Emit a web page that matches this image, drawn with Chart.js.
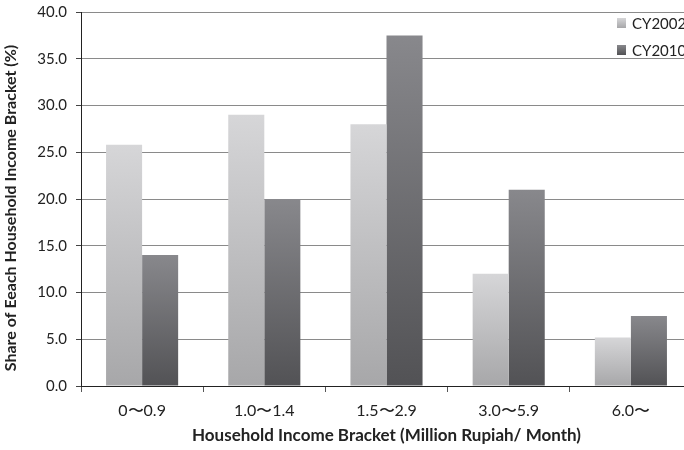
<!DOCTYPE html>
<html>
<head>
<meta charset="utf-8">
<script src="https://cdn.jsdelivr.net/npm/chart.js@4/dist/chart.umd.min.js"></script>
<style>
  html, body { margin: 0; padding: 0; background: #fff; overflow: hidden; }
  #wrap { width: 692px; height: 450px; position: relative; }
</style>
</head>
<body>
<div id="wrap"><canvas id="c"></canvas></div>
<script>
// Household income brackets (million Rupiah per month)
const categories = ['0〜0.9', '1.0〜1.4', '1.5〜2.9', '3.0〜5.9', '6.0〜'];
// Share of households in each bracket (%)
const cy2002 = [25.8, 29.0, 28.0, 12.0, 5.2];
const cy2010 = [14.0, 20.0, 37.5, 21.0, 7.5];
const seriesNames = ['CY2002', 'CY2010'];
const yTicks = [0, 5, 10, 15, 20, 25, 30, 35, 40];
const yTitle = 'Share of Eeach Household Income Bracket (%)';
const xTitle = 'Household Income Bracket (Million Rupiah/ Month)';

const FONT = 'Lato, "Liberation Sans", sans-serif';

// vertical gradient running from each bar's top down to the baseline
function barGradient(topColor, bottomColor) {
  return function (ctx) {
    const chart = ctx.chart;
    const { chartArea } = chart;
    if (!chartArea || ctx.type !== 'data') return bottomColor;
    const y = chart.scales.y;
    const top = y.getPixelForValue(ctx.raw);
    const base = y.getPixelForValue(0);
    const g = chart.ctx.createLinearGradient(0, top, 0, base);
    g.addColorStop(0, topColor);
    g.addColorStop(1, bottomColor);
    return g;
  };
}

const lightTop = '#d6d6d8', lightBottom = '#a7a7a9';
const darkTop = '#88888c', darkBottom = '#525255';

// rotated value-axis title, sitting slightly below the plot's midline
const sideTitle = {
  id: 'sideTitle',
  afterDraw(chart) {
    const { ctx, chartArea } = chart;
    ctx.save();
    ctx.translate(11, (chartArea.top + chartArea.bottom) / 2 + 9);
    ctx.rotate(-Math.PI / 2);
    ctx.fillStyle = '#222';
    ctx.font = 'bold 16px ' + FONT;
    ctx.textAlign = 'center';
    ctx.textBaseline = 'middle';
    ctx.fillText(yTitle, 0, 0);
    ctx.restore();
  }
};

// legend boxed in the upper right of the plot
const cornerLegend = {
  id: 'cornerLegend',
  afterDraw(chart) {
    const { ctx, chartArea } = chart;
    const x0 = chartArea.right - 75;
    const rows = [
      { label: seriesNames[0], top: lightTop, bottom: lightBottom, y: chartArea.top + 11 },
      { label: seriesNames[1], top: darkTop, bottom: darkBottom, y: chartArea.top + 38 }
    ];
    ctx.save();
    ctx.fillStyle = '#fff';
    ctx.fillRect(x0 - 6, chartArea.top + 2, 90, 44);
    rows.forEach(r => {
      const g = ctx.createLinearGradient(0, r.y - 5, 0, r.y + 5);
      g.addColorStop(0, r.top);
      g.addColorStop(1, r.bottom);
      ctx.fillStyle = g;
      ctx.fillRect(x0, r.y - 5, 9, 10);
      ctx.fillStyle = '#222';
      ctx.font = '15px ' + FONT;
      ctx.textAlign = 'left';
      ctx.textBaseline = 'middle';
      ctx.fillText(r.label, x0 + 15, r.y + 1);
    });
    ctx.restore();
  }
};

new Chart(document.getElementById('c'), {
  type: 'bar',
  data: {
    labels: categories,
    datasets: [
      { label: seriesNames[0], data: cy2002, backgroundColor: barGradient(lightTop, lightBottom),
        barPercentage: 1.0, categoryPercentage: 0.59 },
      { label: seriesNames[1], data: cy2010, backgroundColor: barGradient(darkTop, darkBottom),
        barPercentage: 1.0, categoryPercentage: 0.59 }
    ]
  },
  options: {
    responsive: true,
    maintainAspectRatio: false,
    animation: false,
    layout: { padding: { top: 12, right: 0, bottom: 0, left: 0 } },
    plugins: { legend: { display: false }, tooltip: { enabled: false } },
    scales: {
      x: {
        afterFit(axis) { axis.height = 64; axis.paddingLeft = 0; axis.paddingRight = 0; },
        grid: { display: true, drawOnChartArea: false, offset: true, color: '#555', tickLength: 6 },
        border: { display: true, color: '#222', width: 1 },
        ticks: { color: '#222', font: { family: FONT, size: 16 }, padding: 9 },
        title: { display: true, text: xTitle,
          color: '#222', font: { family: FONT, size: 17, weight: 'bold' }, padding: { top: 2, bottom: 4 } }
      },
      y: {
        min: 0, max: 40,
        afterFit(axis) { axis.width = 81; axis.paddingTop = 0; axis.paddingBottom = 0; },
        afterBuildTicks(axis) { axis.ticks = yTicks.map(v => ({ value: v })); },
        grid: { color: '#8a8a8a', lineWidth: 1, tickLength: 5, tickColor: '#444' },
        border: { display: true, color: '#222', width: 1 },
        ticks: { color: '#222', font: { family: FONT, size: 15 }, padding: 9,
          callback: v => Number(v).toFixed(1) },
        title: { display: false }
      }
    }
  },
  plugins: [cornerLegend, sideTitle]
});
</script>
</body>
</html>
